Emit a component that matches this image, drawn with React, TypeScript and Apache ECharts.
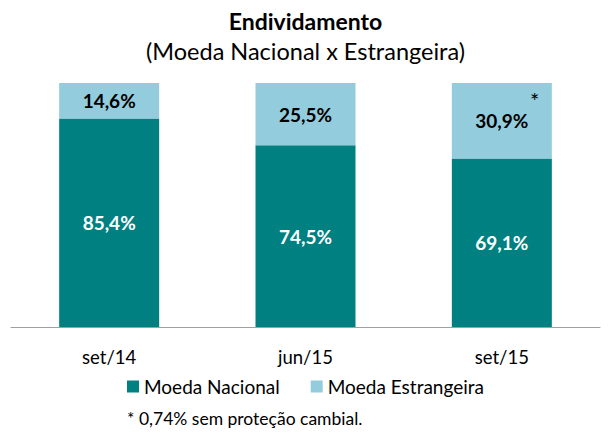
import React, { useEffect, useRef } from "react";
import * as echarts from "echarts";

const categories = ["set/14", "jun/15", "set/15"];
const nacional = [85.4, 74.5, 69.1];
const estrangeira = [14.6, 25.5, 30.9];
const seriesNames = ["Moeda Nacional", "Moeda Estrangeira"];
const titleText = "Endividamento";
const subtitleText = "(Moeda Nacional x Estrangeira)";
const footnote = "* 0,74% sem proteção cambial.";
const starNote = "*";

const FONT = "Lato, 'Open Sans', sans-serif";
const fmt = (v: number) => v.toFixed(1).replace(".", ",") + "%";

export default function App() {
  const ref = useRef<HTMLDivElement>(null);
  useEffect(() => {
    document.body.style.margin = "0";
    if (!ref.current) return;
    const chart = echarts.init(ref.current, null, { renderer: "svg" });
    chart.setOption({
      animation: false,
      textStyle: { fontFamily: FONT },
      title: [
        {
          text: titleText,
          left: "center",
          top: 9,
          padding: 0,
          textStyle: { fontFamily: FONT, fontSize: 23, fontWeight: "bold", color: "#000" },
        },
        {
          text: subtitleText,
          left: "center",
          top: 39,
          padding: 0,
          textStyle: { fontFamily: FONT, fontSize: 23.5, fontWeight: "normal", color: "#000" },
        },
      ],
      legend: {
        top: 377,
        left: 127,
        padding: 0,
        itemWidth: 12,
        itemHeight: 12,
        itemGap: 31,
        icon: "rect",
        textStyle: { fontFamily: FONT, fontSize: 19, color: "#000" },
        data: seriesNames,
      },
      grid: { left: 11, right: 11, top: 83, bottom: 112, containLabel: false },
      xAxis: {
        type: "category",
        data: categories,
        axisLine: { lineStyle: { color: "#A0A0A0", width: 1 } },
        axisTick: { show: false },
        axisLabel: { fontFamily: FONT, fontSize: 18.5, color: "#000", margin: 20 },
      },
      yAxis: { type: "value", min: 0, max: 100, show: false, splitLine: { show: false } },
      series: [
        {
          name: seriesNames[0],
          type: "bar",
          stack: "total",
          barWidth: 100,
          data: nacional,
          itemStyle: { color: "#008080" },
          label: {
            show: true,
            position: "inside",
            formatter: (p: any) => fmt(p.value),
            fontFamily: FONT,
            fontSize: 19,
            fontWeight: "bold",
            color: "#fff",
          },
        },
        {
          name: seriesNames[1],
          type: "bar",
          stack: "total",
          barWidth: 100,
          data: estrangeira,
          itemStyle: { color: "#93CDDD" },
          label: {
            show: true,
            position: "inside",
            formatter: (p: any) => fmt(p.value),
            fontFamily: FONT,
            fontSize: 19,
            fontWeight: "bold",
            color: "#000",
          },
        },
      ],
      graphic: [
        {
          type: "text",
          left: 127,
          top: 409,
          z: 100,
          style: { text: footnote, fontFamily: FONT, fontSize: 17.5, fill: "#000" },
        },
        {
          type: "text",
          left: 530,
          top: 89,
          z: 100,
          style: { text: starNote, fontFamily: FONT, fontSize: 22, fill: "#000" },
        },
      ],
    });
    return () => chart.dispose();
  }, []);
  return <div ref={ref} style={{ width: 611, height: 439 }} />;
}
